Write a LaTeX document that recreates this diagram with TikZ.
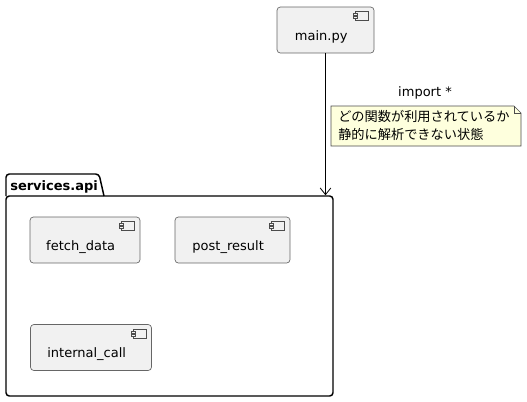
\documentclass[tikz,border=0pt]{standalone}
\usepackage{fontspec}
\setmainfont{DejaVu Sans}
\newfontfamily\jpfont{Noto Sans CJK JP}
\usetikzlibrary{arrows.meta}

\definecolor{compfill}{HTML}{F1F1F1}
\definecolor{notefill}{HTML}{FEFFDD}
\newcommand{\compstrut}{\rule[-3pt]{0pt}{21pt}}
\newcommand{\complabel}[1]{\compstrut #1\hspace*{6.5pt}}

\begin{document}
\begin{tikzpicture}[x=0.75pt,y=-0.75pt,
    comp/.style={draw=black!60, fill=compfill, rounded corners=2.5pt,
      line width=0.5pt, inner sep=0pt, minimum height=34.5pt,
      font=\fontsize{9.75}{12}\selectfont},
    pkgline/.style={line width=1.1pt, rounded corners=2.5pt},
    icon/.style={draw=black!70, fill=compfill, line width=0.4pt}]
\useasboundingbox (0,0) rectangle (527,401);

% package
\draw[pkgline] (6,196) -- (6,174) -- (99,174) -- (104,196);
\node[pkgline, draw, minimum width=245.25pt, minimum height=150pt] (pkg) at (169.5,296) {};
\node[font=\fontsize{9.75}{12}\selectfont\bfseries, anchor=base west, inner sep=0pt] (pkglbl) at (10,190) {services.api};

% components
\node[comp, minimum width=72.75pt] (main) at (325.5,30) {\complabel{main.py}};
\node[comp, minimum width=82.5pt] (fetch) at (85,240) {\complabel{fetch\_data}};
\node[comp, minimum width=86.25pt] (post) at (232.5,240) {\complabel{post\_result}};
\node[comp, minimum width=90.75pt] (internal) at (91,347.5) {\complabel{internal\_call}};

% component icons
\foreach \c in {main,fetch,post,internal}{
  \begin{scope}[shift={(\c.north east)}]
    \draw[icon] (-19,5) rectangle (-6,14);
    \draw[icon] (-21,7) rectangle (-17,9);
    \draw[icon] (-21,10) rectangle (-17,12);
  \end{scope}
}

% link
\draw[-{Straight Barb[length=5pt,width=8pt]}, line width=0.6pt] (main) -- (main |- pkg.north);
\node[font=\fontsize{9.75}{12}\selectfont] (imp) at (425,93) {import *};

% note
\draw[draw=black!70, fill=notefill, line width=0.5pt]
  (331,106) -- (514,106) -- (521,113) -- (521,146) -- (331,146) -- cycle;
\draw[draw=black!70, line width=0.5pt] (514,106) -- (514,113) -- (521,113);
\node[anchor=north west, align=left, inner sep=0pt,
  font=\jpfont\fontsize{9.9}{13.5}\selectfont] (note) at (338,110.5)
  {どの関数が利用されているか\\静的に解析できない状態};
\end{tikzpicture}
\end{document}
